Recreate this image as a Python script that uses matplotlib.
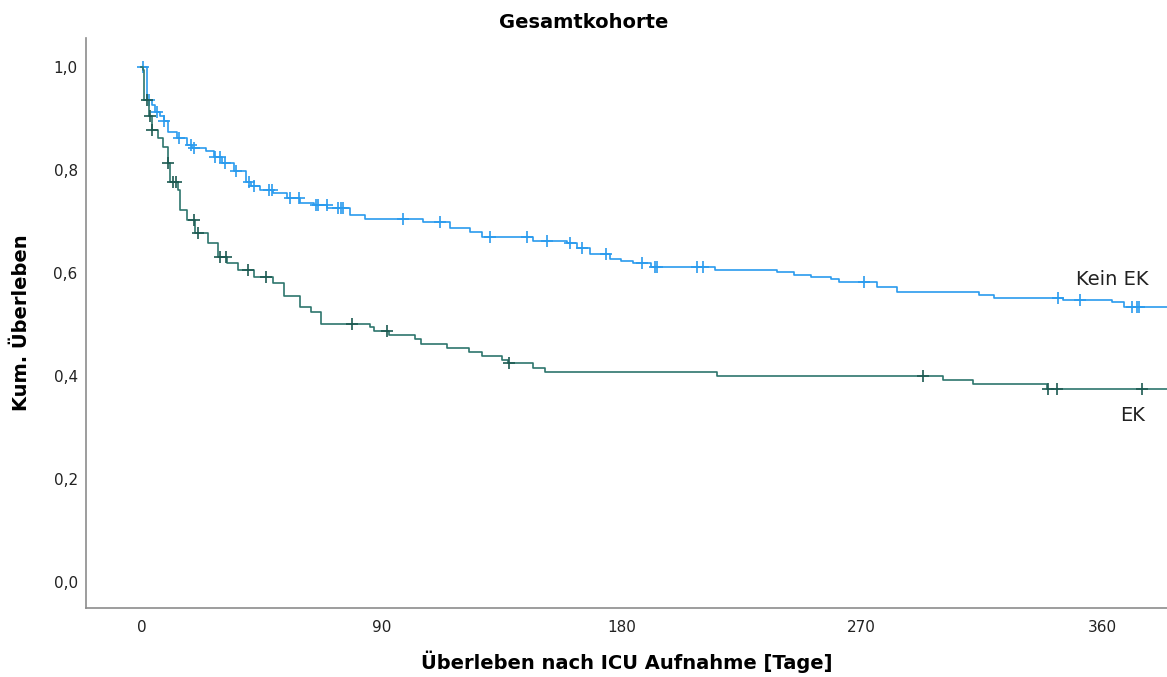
import numpy as np
import matplotlib
matplotlib.use("Agg")
import matplotlib.pyplot as plt

# Kaplan-Meier steps (time in days, survival after step)
kein_ek_t = [0, 2.2, 4.0, 5.2, 7.1, 8.3, 10.1, 13.4, 17.1, 19.0, 24.0, 27.0, 30.3,
             34.5, 39.0, 40.9, 44.6, 49.4, 54.7, 59.6, 64.5, 69.7, 78.3, 83.9,
             105.7, 115.8, 123.3, 127.7, 146.9, 159.6, 163.3, 168.3, 175.8, 179.6,
             184.4, 190.8, 215.1, 238.2, 244.4, 250.8, 258.3, 261.3, 275.8, 283.2,
             313.8, 319.5, 345.6, 363.8, 368.1]
kein_ek_s = [1.0, 0.936, 0.926, 0.913, 0.904, 0.894, 0.874, 0.862, 0.849, 0.842,
             0.836, 0.826, 0.813, 0.797, 0.777, 0.768, 0.761, 0.755, 0.745, 0.735,
             0.732, 0.726, 0.713, 0.705, 0.698, 0.687, 0.680, 0.670, 0.663, 0.659,
             0.648, 0.637, 0.628, 0.623, 0.619, 0.611, 0.606, 0.601, 0.597, 0.593,
             0.588, 0.583, 0.572, 0.564, 0.557, 0.551, 0.548, 0.543, 0.535]
kein_ek_cens = [0.5, 2.8, 5.9, 8.4, 14.0, 18.4, 19.7, 27.7, 29.6, 31.4, 35.3, 40.2,
                42.1, 47.8, 48.9, 55.8, 59.0, 65.3, 66.3, 69.6, 73.8, 74.6, 75.4,
                98.2, 112.0, 130.8, 144.6, 152.0, 160.8, 165.2, 174.0, 187.7, 192.6,
                193.4, 208.3, 210.6, 270.7, 343.7, 351.9, 371.3, 373.2, 373.9]

ek_t = [0, 0.4, 0.8, 2.7, 4.1, 6.0, 7.9, 10.1, 10.8, 13.5, 14.6, 17.2, 20.2, 24.8,
        28.5, 32.2, 36.0, 42.0, 49.4, 53.3, 59.6, 63.4, 67.1, 85.8, 87.0, 92.6,
        102.7, 104.6, 114.7, 122.6, 127.8, 135.3, 137.2, 146.9, 151.3, 215.9,
        300.6, 311.8, 339.6]
ek_s = [1.0, 0.994, 0.936, 0.904, 0.878, 0.862, 0.845, 0.814, 0.777, 0.761, 0.722,
        0.703, 0.678, 0.658, 0.631, 0.619, 0.606, 0.592, 0.581, 0.555, 0.535, 0.525,
        0.502, 0.496, 0.487, 0.480, 0.471, 0.463, 0.455, 0.447, 0.439, 0.431, 0.425,
        0.416, 0.407, 0.400, 0.392, 0.384, 0.375]
ek_cens = [2.2, 3.3, 4.1, 10.1, 11.9, 12.8, 19.5, 21.3, 29.6, 31.7, 40.1, 46.5,
           79.0, 92.1, 137.6, 292.9, 339.9, 343.3, 375.2]

x_ticks = [0, 90, 180, 270, 360]
y_ticks = [0.0, 0.2, 0.4, 0.6, 0.8, 1.0]
t_end = 385

blue = "#2a9bee"
green = "#2e766d"


def surv_at(times, surv, t):
    idx = np.searchsorted(times, t, side="right") - 1
    return np.asarray(surv)[idx]


fig = plt.figure(figsize=(11.67, 6.77), dpi=100)
ax = fig.add_axes([0.0737, 0.1019, 0.9263, 0.842])

# Kein EK
ax.step(kein_ek_t + [t_end], kein_ek_s + [kein_ek_s[-1]], where="post",
        color=blue, lw=1.2)
ax.plot(kein_ek_cens, surv_at(kein_ek_t, kein_ek_s, kein_ek_cens), "+",
        color=blue, ms=8, mew=1.2)
# EK
ax.step(ek_t + [t_end], ek_s + [ek_s[-1]], where="post", color=green, lw=1.2)
ax.plot(ek_cens, surv_at(ek_t, ek_s, ek_cens), "+", color="#1d5a52",
        ms=8, mew=1.2)

ax.text(350.3, 0.587, "Kein EK", fontsize=14, color="#222222", va="center")
ax.text(366.8, 0.324, "EK", fontsize=14, color="#222222", va="center")

ax.set_xlim(-20.8, 384.4)
ax.set_ylim(-0.05, 1.056)
ax.set_xticks(x_ticks)
ax.set_yticks(y_ticks)
ax.set_yticklabels([f"{v:.1f}".replace(".", ",") for v in y_ticks])
ax.tick_params(length=0, labelsize=11, colors="#222222")
ax.tick_params(axis="x", pad=8.5)
ax.tick_params(axis="y", pad=6)
for side in ["top", "right"]:
    ax.spines[side].set_visible(False)
for side in ["left", "bottom"]:
    ax.spines[side].set_color("#8c8c8c")
    ax.spines[side].set_linewidth(1.2)

ax.set_title("Gesamtkohorte", fontsize=14, fontweight="bold", pad=7, x=0.46)
ax.set_xlabel("Überleben nach ICU Aufnahme [Tage]", fontsize=14,
              fontweight="bold", labelpad=11)
ax.set_ylabel("Kum. Überleben", fontsize=14, fontweight="bold", labelpad=16)

fig.savefig("out.png", dpi=100)
